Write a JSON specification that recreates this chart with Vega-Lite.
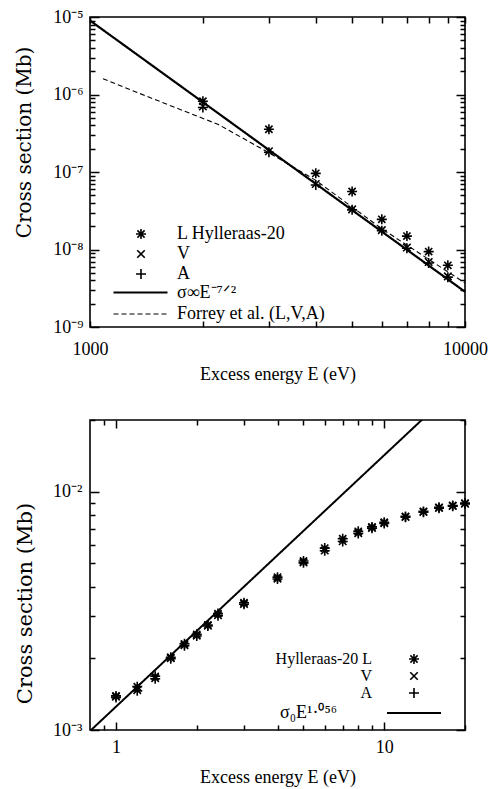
{
  "$schema": "https://vega.github.io/schema/vega-lite/v6.json",
  "padding": {"top": 7, "left": 13, "right": 2, "bottom": 2},
  "background": "white",
  "config": {
    "view": {"stroke": "black", "strokeWidth": 1.6},
    "font": "Liberation Serif",
    "axis": {"domain": false, "grid": false, "zindex": 1, "labelFont": "Liberation Serif", "labelFontSize": 18, "labelColor": "black", "titleFont": "Liberation Serif", "titleFontSize": 18, "titleFontWeight": "normal", "titleColor": "black", "labelOverlap": false, "labelFlush": false},
    "legend": {"labelFont": "Liberation Serif", "labelFontSize": 18, "labelColor": "black", "padding": 0}
  },
  "resolve": {"scale": {"shape": "independent", "strokeDash": "independent", "strokeWidth": "independent"}, "legend": {"shape": "independent", "strokeDash": "independent"}},
  "datasets": {
    "topPoints": [
      {"E": 2000, "sigma": 8.2e-7, "series": "L Hylleraas-20"},
      {"E": 3000, "sigma": 3.56e-7, "series": "L Hylleraas-20"},
      {"E": 4000, "sigma": 9.6e-8, "series": "L Hylleraas-20"},
      {"E": 5000, "sigma": 5.6e-8, "series": "L Hylleraas-20"},
      {"E": 6000, "sigma": 2.45e-8, "series": "L Hylleraas-20"},
      {"E": 7000, "sigma": 1.49e-8, "series": "L Hylleraas-20"},
      {"E": 8000, "sigma": 9.4e-9, "series": "L Hylleraas-20"},
      {"E": 9000, "sigma": 6.25e-9, "series": "L Hylleraas-20"},
      {"E": 2000, "sigma": 7.0e-7, "series": "V"},
      {"E": 3000, "sigma": 1.85e-7, "series": "V"},
      {"E": 4000, "sigma": 7.0e-8, "series": "V"},
      {"E": 5000, "sigma": 3.3e-8, "series": "V"},
      {"E": 6000, "sigma": 1.78e-8, "series": "V"},
      {"E": 7000, "sigma": 1.06e-8, "series": "V"},
      {"E": 8000, "sigma": 6.9e-9, "series": "V"},
      {"E": 9000, "sigma": 4.5e-9, "series": "V"},
      {"E": 2000, "sigma": 6.8e-7, "series": "A"},
      {"E": 3000, "sigma": 1.8e-7, "series": "A"},
      {"E": 4000, "sigma": 6.8e-8, "series": "A"},
      {"E": 5000, "sigma": 3.25e-8, "series": "A"},
      {"E": 6000, "sigma": 1.75e-8, "series": "A"},
      {"E": 7000, "sigma": 1.04e-8, "series": "A"},
      {"E": 8000, "sigma": 6.7e-9, "series": "A"},
      {"E": 9000, "sigma": 4.4e-9, "series": "A"}
    ],
    "topLines": [
      {"E": 1000, "sigma": 9.0e-6, "curve": "σ∞E⁻⁷ᐟ²"},
      {"E": 10000, "sigma": 2.85e-9, "curve": "σ∞E⁻⁷ᐟ²"},
      {"E": 1083, "sigma": 1.6e-6, "curve": "Forrey et al. (L,V,A)"},
      {"E": 1400, "sigma": 9.7e-7, "curve": "Forrey et al. (L,V,A)"},
      {"E": 2200, "sigma": 4.1e-7, "curve": "Forrey et al. (L,V,A)"},
      {"E": 3000, "sigma": 1.77e-7, "curve": "Forrey et al. (L,V,A)"},
      {"E": 4000, "sigma": 7.8e-8, "curve": "Forrey et al. (L,V,A)"},
      {"E": 6000, "sigma": 1.85e-8, "curve": "Forrey et al. (L,V,A)"},
      {"E": 10000, "sigma": 3.7e-9, "curve": "Forrey et al. (L,V,A)"}
    ],
    "botPoints": [
      {"E": 1, "sigma": 0.00139, "series": "Hylleraas-20 L"},
      {"E": 1.2, "sigma": 0.00152, "series": "Hylleraas-20 L"},
      {"E": 1.4, "sigma": 0.00168, "series": "Hylleraas-20 L"},
      {"E": 1.6, "sigma": 0.00202, "series": "Hylleraas-20 L"},
      {"E": 1.8, "sigma": 0.0023, "series": "Hylleraas-20 L"},
      {"E": 2.0, "sigma": 0.00252, "series": "Hylleraas-20 L"},
      {"E": 2.2, "sigma": 0.00276, "series": "Hylleraas-20 L"},
      {"E": 2.4, "sigma": 0.00308, "series": "Hylleraas-20 L"},
      {"E": 3, "sigma": 0.00342, "series": "Hylleraas-20 L"},
      {"E": 4, "sigma": 0.00438, "series": "Hylleraas-20 L"},
      {"E": 5, "sigma": 0.00512, "series": "Hylleraas-20 L"},
      {"E": 6, "sigma": 0.0058, "series": "Hylleraas-20 L"},
      {"E": 7, "sigma": 0.00635, "series": "Hylleraas-20 L"},
      {"E": 8, "sigma": 0.00682, "series": "Hylleraas-20 L"},
      {"E": 9, "sigma": 0.00712, "series": "Hylleraas-20 L"},
      {"E": 10, "sigma": 0.00745, "series": "Hylleraas-20 L"},
      {"E": 12, "sigma": 0.00788, "series": "Hylleraas-20 L"},
      {"E": 14, "sigma": 0.00827, "series": "Hylleraas-20 L"},
      {"E": 16, "sigma": 0.0086, "series": "Hylleraas-20 L"},
      {"E": 18, "sigma": 0.00876, "series": "Hylleraas-20 L"},
      {"E": 20, "sigma": 0.00896, "series": "Hylleraas-20 L"},
      {"E": 1, "sigma": 0.00138, "series": "V"},
      {"E": 1.2, "sigma": 0.00147, "series": "V"},
      {"E": 1.4, "sigma": 0.00165, "series": "V"},
      {"E": 1.6, "sigma": 0.002, "series": "V"},
      {"E": 1.8, "sigma": 0.00227, "series": "V"},
      {"E": 2.0, "sigma": 0.00249, "series": "V"},
      {"E": 2.2, "sigma": 0.00274, "series": "V"},
      {"E": 2.4, "sigma": 0.00303, "series": "V"},
      {"E": 3, "sigma": 0.00338, "series": "V"},
      {"E": 4, "sigma": 0.00432, "series": "V"},
      {"E": 5, "sigma": 0.00505, "series": "V"},
      {"E": 6, "sigma": 0.00567, "series": "V"},
      {"E": 7, "sigma": 0.0062, "series": "V"},
      {"E": 8, "sigma": 0.0067, "series": "V"},
      {"E": 9, "sigma": 0.00705, "series": "V"},
      {"E": 10, "sigma": 0.00738, "series": "V"},
      {"E": 12, "sigma": 0.00783, "series": "V"},
      {"E": 14, "sigma": 0.00822, "series": "V"},
      {"E": 16, "sigma": 0.00855, "series": "V"},
      {"E": 18, "sigma": 0.00871, "series": "V"},
      {"E": 20, "sigma": 0.0089, "series": "V"},
      {"E": 1, "sigma": 0.00137, "series": "A"},
      {"E": 1.2, "sigma": 0.00146, "series": "A"},
      {"E": 1.4, "sigma": 0.00164, "series": "A"},
      {"E": 1.6, "sigma": 0.00199, "series": "A"},
      {"E": 1.8, "sigma": 0.00226, "series": "A"},
      {"E": 2.0, "sigma": 0.00248, "series": "A"},
      {"E": 2.2, "sigma": 0.00273, "series": "A"},
      {"E": 2.4, "sigma": 0.00302, "series": "A"},
      {"E": 3, "sigma": 0.00337, "series": "A"},
      {"E": 4, "sigma": 0.0043, "series": "A"},
      {"E": 5, "sigma": 0.00503, "series": "A"},
      {"E": 6, "sigma": 0.00565, "series": "A"},
      {"E": 7, "sigma": 0.00618, "series": "A"},
      {"E": 8, "sigma": 0.00668, "series": "A"},
      {"E": 9, "sigma": 0.00703, "series": "A"},
      {"E": 10, "sigma": 0.00736, "series": "A"},
      {"E": 12, "sigma": 0.00781, "series": "A"},
      {"E": 14, "sigma": 0.0082, "series": "A"},
      {"E": 16, "sigma": 0.00853, "series": "A"},
      {"E": 18, "sigma": 0.0087, "series": "A"},
      {"E": 20, "sigma": 0.00888, "series": "A"}
    ],
    "botLines": [
      {"E": 0.8, "sigma": 0.00099, "curve": "σ₀E¹·⁰⁵⁶"},
      {"E": 20, "sigma": 0.0296, "curve": "σ₀E¹·⁰⁵⁶"}
    ]
  },
  "spacing": 26,
  "vconcat": [
    {
      "width": 375,
      "height": 310,
      "resolve": {"axis": {"x": "independent", "y": "independent"}},
      "layer": [
        {
          "data": {"name": "topPoints"},
          "mark": {"type": "point", "filled": false, "size": 100, "strokeWidth": 1.6, "color": "black", "opacity": 1},
          "encoding": {
            "x": {"field": "E", "type": "quantitative", "scale": {"type": "log", "domain": [1000, 10000], "nice": false},
              "axis": {"orient": "bottom", "title": "Excess energy E (eV)", "values": [1000, 2000, 3000, 4000, 5000, 6000, 7000, 8000, 9000, 10000],
                "labelExpr": "datum.value == 1000 ? '1000' : datum.value == 10000 ? '10000' : ''",
                "tickColor": "black", "tickWidth": 1.5, "tickSize": -6,
                "labelPadding": 19, "titlePadding": 7}},
            "y": {"field": "sigma", "type": "quantitative", "scale": {"type": "log", "domain": [1e-9, 1e-5], "nice": false},
              "axis": {"orient": "left", "title": "Cross section (Mb)", "titleFont": "DejaVu Serif", "titleFontSize": 20,
                "titleX": -66, "titleY": 125, "titleBaseline": "middle", "titleAlign": "center", "titleAngle": -90,
                "values": [1e-9, 2e-9, 3e-9, 4e-9, 5e-9, 6e-9, 7e-9, 8e-9, 9e-9, 1e-8, 2e-8, 3e-8, 4e-8, 5e-8, 6e-8, 7e-8, 8e-8, 9e-8, 1e-7, 2e-7, 3e-7, 4e-7, 5e-7, 6e-7, 7e-7, 8e-7, 9e-7, 1e-6, 2e-6, 3e-6, 4e-6, 5e-6, 6e-6, 7e-6, 8e-6, 9e-6, 1e-5],
                "labelExpr": "datum.value == 1e-5 ? '10⁻⁵' : datum.value == 1e-6 ? '10⁻⁶' : datum.value == 1e-7 ? '10⁻⁷' : datum.value == 1e-8 ? '10⁻⁸' : datum.value == 1e-9 ? '10⁻⁹' : ''",
                "tickColor": "black", "tickWidth": 1.5,
                "tickSize": {"condition": {"test": "indexof([1e-9, 1e-8, 1e-7, 1e-6, 1e-5], datum.value) >= 0", "value": -9}, "value": -5},
                "labelPadding": 16}},
            "shape": {"field": "series", "type": "nominal",
              "scale": {"domain": ["L Hylleraas-20", "V", "A"], "range": ["M-1,0L1,0M0,-1L0,1M-0.72,-0.72L0.72,0.72M-0.72,0.72L0.72,-0.72", "M-0.75,-0.75L0.75,0.75M-0.75,0.75L0.75,-0.75", "M-1,0L1,0M0,-1L0,1"]},
              "legend": {"orient": "none", "legendX": 42, "legendY": 208, "title": null, "labelOffset": 27, "rowPadding": 2, "symbolSize": 100, "symbolStrokeWidth": 1.6, "symbolStrokeColor": "black", "symbolFillColor": "transparent"}}
          }
        },
        {
          "data": {"name": "topLines"},
          "mark": {"type": "line", "color": "black", "clip": true},
          "encoding": {
            "x": {"field": "E", "type": "quantitative", "scale": {"type": "log", "domain": [1000, 10000], "nice": false},
              "axis": {"orient": "top", "title": null, "labels": false, "values": [1000, 2000, 3000, 4000, 5000, 6000, 7000, 8000, 9000, 10000], "tickSize": -6, "tickColor": "black", "tickWidth": 1.5}},
            "y": {"field": "sigma", "type": "quantitative", "scale": {"type": "log", "domain": [1e-9, 1e-5], "nice": false},
              "axis": {"orient": "right", "title": null, "labels": false,
                "values": [1e-9, 2e-9, 3e-9, 4e-9, 5e-9, 6e-9, 7e-9, 8e-9, 9e-9, 1e-8, 2e-8, 3e-8, 4e-8, 5e-8, 6e-8, 7e-8, 8e-8, 9e-8, 1e-7, 2e-7, 3e-7, 4e-7, 5e-7, 6e-7, 7e-7, 8e-7, 9e-7, 1e-6, 2e-6, 3e-6, 4e-6, 5e-6, 6e-6, 7e-6, 8e-6, 9e-6, 1e-5],
                "tickColor": "black", "tickWidth": 1.5,
                "tickSize": {"condition": {"test": "indexof([1e-9, 1e-8, 1e-7, 1e-6, 1e-5], datum.value) >= 0", "value": -9}, "value": -5}}},
            "strokeDash": {"field": "curve", "type": "nominal",
              "scale": {"domain": ["σ∞E⁻⁷ᐟ²", "Forrey et al. (L,V,A)"], "range": [[1, 0], [5, 3]]},
              "legend": {"orient": "none", "legendX": 40, "legendY": 265, "title": null, "labelOffset": 26, "rowPadding": 2, "symbolType": "M-3,0L3,0", "symbolSize": 324, "symbolStrokeWidth": 1.6, "symbolStrokeColor": "black"}},
            "strokeWidth": {"field": "curve", "type": "nominal",
              "scale": {"domain": ["σ∞E⁻⁷ᐟ²", "Forrey et al. (L,V,A)"], "range": [2.2, 1.1]},
              "legend": null}
          }
        }
      ]
    },
    {
      "width": 375,
      "height": 310,
      "resolve": {"axis": {"x": "independent", "y": "independent"}},
      "layer": [
        {
          "data": {"name": "botPoints"},
          "mark": {"type": "point", "filled": false, "size": 100, "strokeWidth": 1.6, "color": "black", "opacity": 1},
          "encoding": {
            "x": {"field": "E", "type": "quantitative", "scale": {"type": "log", "domain": [0.8, 20], "nice": false},
              "axis": {"orient": "bottom", "title": "Excess energy E (eV)", "values": [0.9, 1, 2, 3, 4, 5, 6, 7, 8, 9, 10, 20],
                "labelExpr": "datum.value == 1 ? '1' : datum.value == 10 ? '10' : ''",
                "tickColor": "black", "tickWidth": 1.5,
                "tickSize": {"condition": {"test": "datum.value == 1 || datum.value == 10", "value": -8}, "value": -5},
                "labelPadding": 16, "titlePadding": 9}},
            "y": {"field": "sigma", "type": "quantitative", "scale": {"type": "log", "domain": [0.001, 0.02], "nice": false},
              "axis": {"orient": "left", "title": "Cross section (Mb)", "titleFont": "DejaVu Serif", "titleFontSize": 21,
                "titleX": -65, "titleY": 183, "titleBaseline": "middle", "titleAlign": "center", "titleAngle": -90,
                "values": [0.001, 0.002, 0.003, 0.004, 0.005, 0.006, 0.007, 0.008, 0.009, 0.01, 0.02],
                "labelExpr": "datum.value == 0.001 ? '10⁻³' : datum.value == 0.01 ? '10⁻²' : ''",
                "tickColor": "black", "tickWidth": 1.5,
                "tickSize": {"condition": {"test": "datum.value == 0.001 || datum.value == 0.01", "value": -9}, "value": -5},
                "labelPadding": 17}},
            "shape": {"field": "series", "type": "nominal",
              "scale": {"domain": ["Hylleraas-20 L", "V", "A"], "range": ["M-1,0L1,0M0,-1L0,1M-0.72,-0.72L0.72,0.72M-0.72,0.72L0.72,-0.72", "M-0.75,-0.75L0.75,0.75M-0.75,0.75L0.75,-0.75", "M-1,0L1,0M0,-1L0,1"]},
              "legend": {"orient": "none", "legendX": 316, "legendY": 231, "title": null, "labelAlign": "right", "labelOffset": -50, "labelFontSize": 16, "rowPadding": 0, "symbolSize": 100, "symbolStrokeWidth": 1.6, "symbolStrokeColor": "black", "symbolFillColor": "transparent"}}
          }
        },
        {
          "data": {"name": "botLines"},
          "mark": {"type": "line", "color": "black", "clip": true, "strokeWidth": 2},
          "encoding": {
            "x": {"field": "E", "type": "quantitative", "scale": {"type": "log", "domain": [0.8, 20], "nice": false},
              "axis": {"orient": "top", "title": null, "labels": false, "values": [0.9, 1, 2, 3, 4, 5, 6, 7, 8, 9, 10, 20], "tickColor": "black", "tickWidth": 1.5,
                "tickSize": {"condition": {"test": "datum.value == 1 || datum.value == 10", "value": -8}, "value": -5}}},
            "y": {"field": "sigma", "type": "quantitative", "scale": {"type": "log", "domain": [0.001, 0.02], "nice": false},
              "axis": {"orient": "right", "title": null, "labels": false,
                "values": [0.001, 0.002, 0.003, 0.004, 0.005, 0.006, 0.007, 0.008, 0.009, 0.01, 0.02], "tickColor": "black", "tickWidth": 1.5,
                "tickSize": {"condition": {"test": "datum.value == 0.001 || datum.value == 0.01", "value": -9}, "value": -5}}},
            "strokeDash": {"field": "curve", "type": "nominal",
              "scale": {"domain": ["σ₀E¹·⁰⁵⁶"], "range": [[1, 0]]},
              "legend": {"orient": "none", "legendX": 296, "legendY": 265, "title": null, "labelAlign": "right", "labelOffset": -105, "symbolSize": 2916, "symbolStrokeWidth": 2, "symbolStrokeColor": "black"}}
          }
        }
      ]
    }
  ]
}
